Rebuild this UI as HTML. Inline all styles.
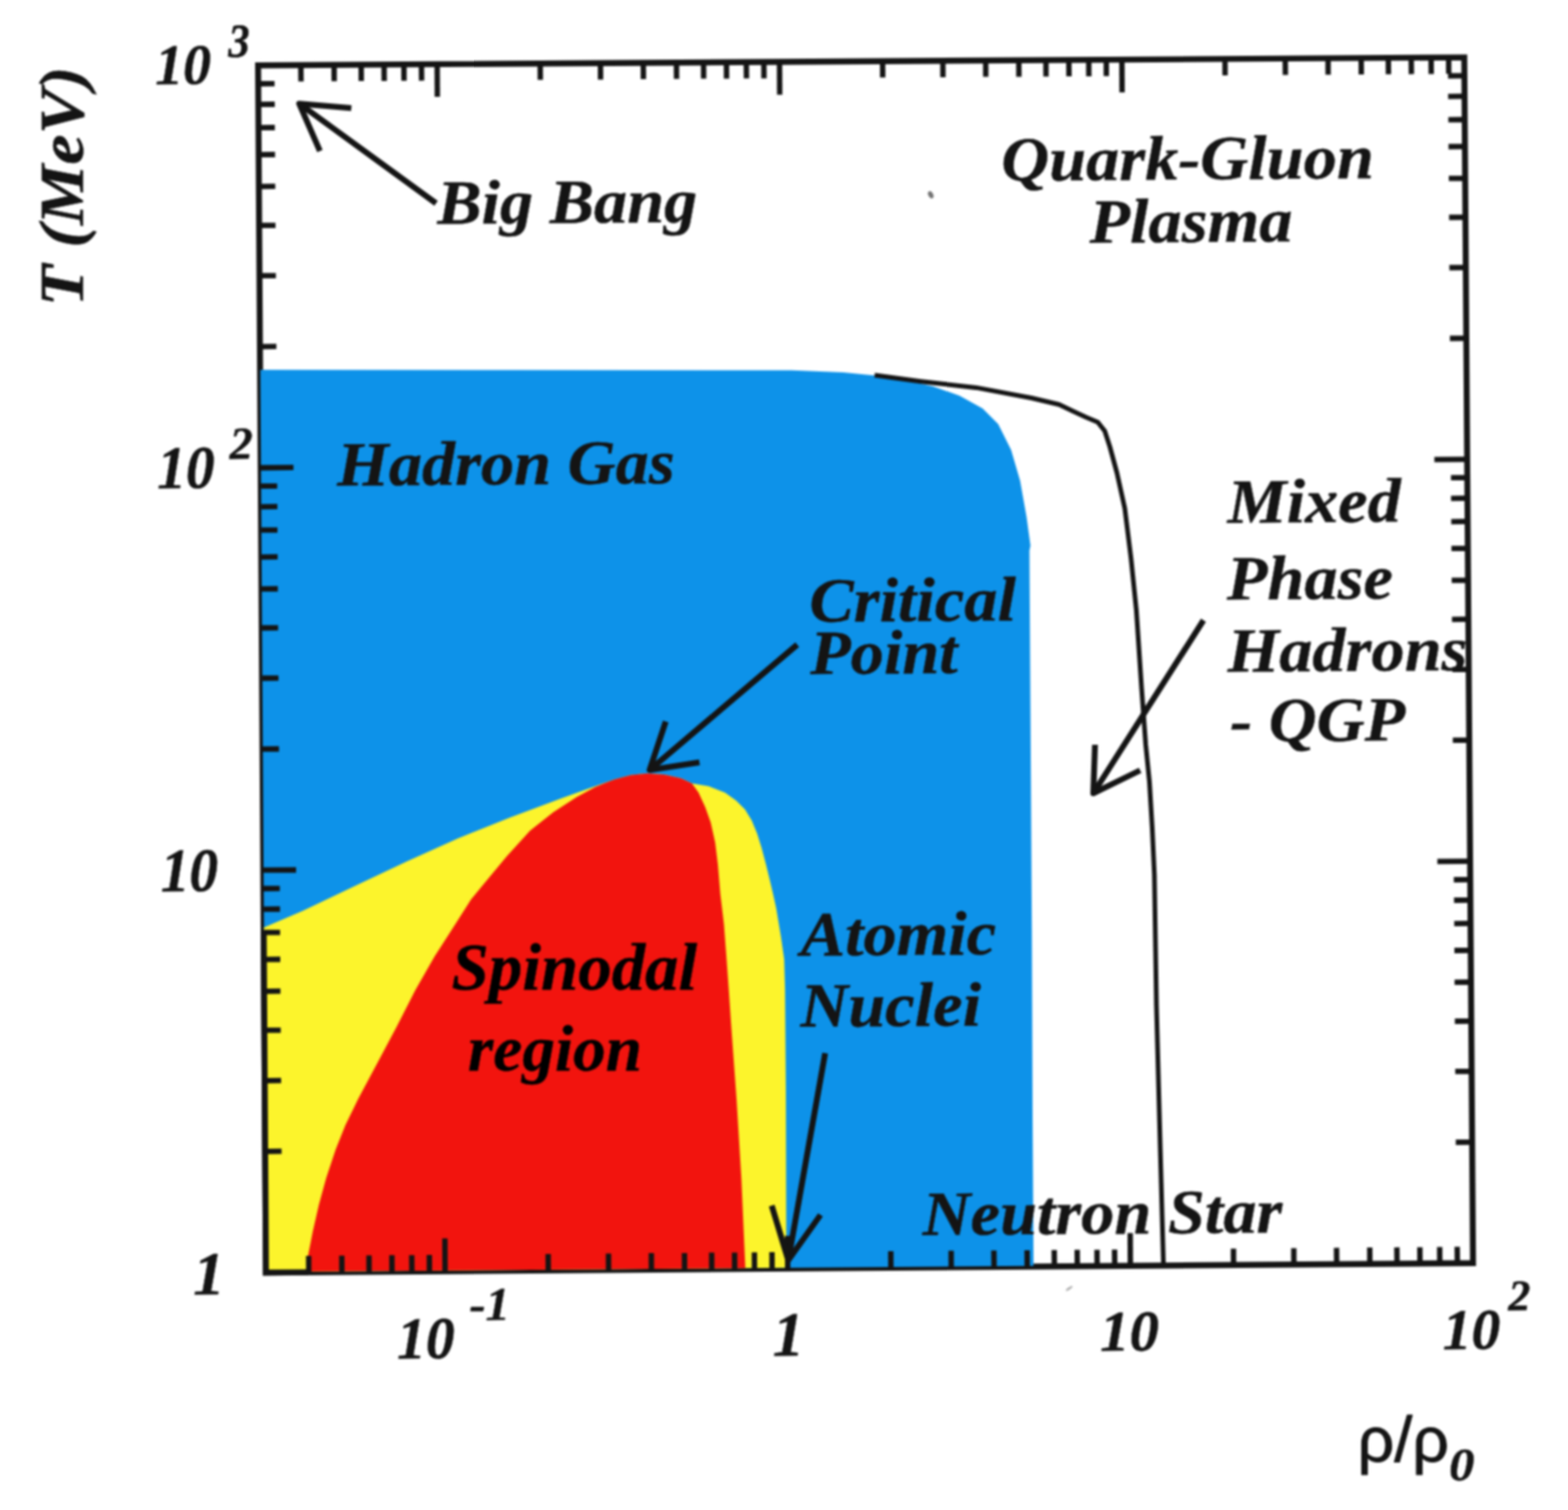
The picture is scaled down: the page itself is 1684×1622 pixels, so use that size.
<!DOCTYPE html>
<html lang="en"><head><meta charset="utf-8"><title>Nuclear matter phase diagram</title>
<style>
html,body{margin:0;padding:0;background:#fff;}
body{width:1684px;height:1622px;overflow:hidden;}
svg{display:block;}
.t{font-family:"Liberation Serif","DejaVu Serif",serif;font-weight:bold;font-style:italic;fill:#141414;}
.s{font-family:"Liberation Sans","DejaVu Sans",sans-serif;fill:#141414;}
.ln{stroke:#141414;fill:none;}
</style></head><body>
<svg width="1684" height="1622" viewBox="0 0 1684 1622" role="img" aria-label="Phase diagram of nuclear matter: temperature versus density">
<defs><filter id="soft" filterUnits="userSpaceOnUse" x="0" y="0" width="1684" height="1622" color-interpolation-filters="sRGB"><feGaussianBlur stdDeviation="0.9"/></filter></defs>
<rect x="0" y="0" width="1684" height="1622" fill="#ffffff"/>
<g filter="url(#soft)">
<rect x="0" y="0" width="1684" height="1622" fill="#ffffff"/>
<ellipse cx="999.6" cy="209.2" rx="2.6" ry="4.2" fill="#5a5a5a" opacity="0.85" transform="rotate(-25 999.6 209.2)"/>
<ellipse cx="1148.3" cy="1384" rx="4.2" ry="1.3" fill="#8a8a8a" opacity="0.7" transform="rotate(-35 1148.3 1384)"/>
<polygon class="ln" stroke-width="6.4" stroke-linejoin="miter" points="277.2,70.2 1572.6,61.6 1582.0,1356.8 285.6,1367.0"/>
<polygon fill="#0d92e9" points="279.6,397.2 560.0,397.6 850.0,397.7 905.5,400.0 961.0,405.5 1002.6,415.2 1030.4,425.0 1055.3,438.8 1072.0,455.4 1085.9,483.2 1095.6,516.5 1102.5,555.3 1106.7,585.9 1105.6,591.4 1108.2,1000.0 1109.0,1200.0 1110.0,1359.7 285.9,1366.2"/>
<polygon fill="#fcf42c" points="283.5,996.2 325.5,978.2 381.0,951.8 436.5,925.5 492.0,900.5 547.5,878.3 603.0,857.5 646.2,842.0 660.0,837.3 677.8,832.6 695.6,830.8 713.4,832.0 731.3,836.1 743.1,841.5 761.0,844.4 778.8,851.6 790.6,859.9 800.1,869.4 807.3,881.3 813.2,895.5 818.0,911.0 822.7,928.8 826.5,944.2 830.2,960.0 833.6,975.4 838.8,1006.4 842.2,1030.6 843.1,1061.7 844.0,1172.0 844.5,1361.8 285.9,1366.2"/>
<polygon fill="#f2140e" points="328.5,1365.8 330.9,1348.4 336.0,1322.5 342.5,1294.0 350.3,1265.5 360.6,1234.5 371.0,1208.6 384.9,1180.1 405.6,1141.3 426.2,1102.4 446.1,1063.6 466.8,1027.3 490.1,991.1 506.0,966.0 519.4,949.7 544.3,919.8 569.3,892.3 594.2,872.4 619.2,856.2 639.1,845.5 650.0,841.0 660.0,837.3 677.8,832.6 695.6,830.8 713.4,832.0 731.3,836.1 743.1,841.5 750.3,851.6 757.4,867.0 763.3,883.6 768.1,905.0 771.0,928.8 773.6,960.0 777.5,992.6 780.1,1027.1 782.6,1061.7 785.2,1100.0 791.0,1180.0 796.2,1265.0 800.5,1362.2"/>
<polyline class="ln" stroke-width="6.4" stroke-linejoin="miter" points="283.2,1000.0 285.6,1367.0 331.0,1366.6"/>
<g class="ln" stroke-width="5.8">
<line x1="323.1" y1="69.9" x2="323.3" y2="87.5"/>
<line x1="331.6" y1="1366.6" x2="331.5" y2="1349.0"/>
<line x1="358.8" y1="69.7" x2="358.9" y2="87.3"/>
<line x1="367.2" y1="1366.4" x2="367.1" y2="1348.7"/>
<line x1="387.9" y1="69.5" x2="388.0" y2="87.1"/>
<line x1="396.4" y1="1366.1" x2="396.3" y2="1348.5"/>
<line x1="412.5" y1="69.3" x2="412.6" y2="86.9"/>
<line x1="421.0" y1="1365.9" x2="420.9" y2="1348.3"/>
<line x1="433.8" y1="69.2" x2="433.9" y2="86.8"/>
<line x1="442.4" y1="1365.8" x2="442.2" y2="1348.2"/>
<line x1="452.6" y1="69.0" x2="452.8" y2="86.6"/>
<line x1="461.2" y1="1365.6" x2="461.1" y2="1348.0"/>
<line x1="469.5" y1="68.9" x2="469.7" y2="104.1"/>
<line x1="478.0" y1="1365.5" x2="477.8" y2="1330.3"/>
<line x1="580.2" y1="68.2" x2="580.3" y2="85.8"/>
<line x1="588.8" y1="1364.6" x2="588.7" y2="1347.0"/>
<line x1="644.9" y1="67.8" x2="645.0" y2="85.4"/>
<line x1="653.6" y1="1364.1" x2="653.5" y2="1346.5"/>
<line x1="690.9" y1="67.5" x2="691.0" y2="85.1"/>
<line x1="699.6" y1="1363.7" x2="699.5" y2="1346.1"/>
<line x1="726.5" y1="67.2" x2="726.6" y2="84.8"/>
<line x1="735.2" y1="1363.5" x2="735.1" y2="1345.9"/>
<line x1="755.6" y1="67.0" x2="755.7" y2="84.6"/>
<line x1="764.4" y1="1363.2" x2="764.3" y2="1345.6"/>
<line x1="780.2" y1="66.9" x2="780.3" y2="84.5"/>
<line x1="789.0" y1="1363.0" x2="788.9" y2="1345.4"/>
<line x1="801.5" y1="66.7" x2="801.7" y2="84.3"/>
<line x1="810.3" y1="1362.9" x2="810.2" y2="1345.3"/>
<line x1="820.4" y1="66.6" x2="820.5" y2="84.2"/>
<line x1="829.2" y1="1362.7" x2="829.1" y2="1345.1"/>
<line x1="837.2" y1="66.5" x2="837.4" y2="101.7"/>
<line x1="846.0" y1="1362.6" x2="845.8" y2="1327.4"/>
<line x1="947.9" y1="65.7" x2="948.0" y2="83.3"/>
<line x1="956.8" y1="1361.7" x2="956.7" y2="1344.1"/>
<line x1="1012.6" y1="65.3" x2="1012.7" y2="82.9"/>
<line x1="1021.6" y1="1361.2" x2="1021.5" y2="1343.6"/>
<line x1="1058.6" y1="65.0" x2="1058.7" y2="82.6"/>
<line x1="1067.6" y1="1360.8" x2="1067.4" y2="1343.2"/>
<line x1="1094.2" y1="64.8" x2="1094.3" y2="82.4"/>
<line x1="1103.2" y1="1360.6" x2="1103.1" y2="1343.0"/>
<line x1="1123.3" y1="64.6" x2="1123.4" y2="82.2"/>
<line x1="1132.4" y1="1360.3" x2="1132.2" y2="1342.7"/>
<line x1="1147.9" y1="64.4" x2="1148.1" y2="82.0"/>
<line x1="1157.0" y1="1360.1" x2="1156.9" y2="1342.5"/>
<line x1="1169.3" y1="64.3" x2="1169.4" y2="81.9"/>
<line x1="1178.3" y1="1360.0" x2="1178.2" y2="1342.4"/>
<line x1="1188.1" y1="64.2" x2="1188.2" y2="81.7"/>
<line x1="1197.2" y1="1359.8" x2="1197.0" y2="1342.2"/>
<line x1="1204.9" y1="64.0" x2="1205.1" y2="99.2"/>
<line x1="1214.0" y1="1359.7" x2="1213.8" y2="1324.5"/>
<line x1="1315.6" y1="63.3" x2="1315.7" y2="80.9"/>
<line x1="1324.8" y1="1358.8" x2="1324.7" y2="1341.2"/>
<line x1="1380.3" y1="62.9" x2="1380.5" y2="80.5"/>
<line x1="1389.6" y1="1358.3" x2="1389.5" y2="1340.7"/>
<line x1="1426.3" y1="62.6" x2="1426.4" y2="80.2"/>
<line x1="1435.6" y1="1358.0" x2="1435.4" y2="1340.4"/>
<line x1="1461.9" y1="62.3" x2="1462.0" y2="79.9"/>
<line x1="1471.2" y1="1357.7" x2="1471.1" y2="1340.1"/>
<line x1="1491.0" y1="62.1" x2="1491.2" y2="79.7"/>
<line x1="1500.4" y1="1357.4" x2="1500.2" y2="1339.9"/>
<line x1="1515.6" y1="62.0" x2="1515.8" y2="79.6"/>
<line x1="1525.0" y1="1357.2" x2="1524.9" y2="1339.7"/>
<line x1="1537.0" y1="61.8" x2="1537.1" y2="79.4"/>
<line x1="1546.3" y1="1357.1" x2="1546.2" y2="1339.5"/>
<line x1="1555.8" y1="61.7" x2="1555.9" y2="79.3"/>
<line x1="1565.2" y1="1356.9" x2="1565.0" y2="1339.3"/>
<line x1="284.8" y1="1236.9" x2="302.4" y2="1236.7"/>
<line x1="1581.1" y1="1226.8" x2="1563.5" y2="1227.0"/>
<line x1="284.3" y1="1160.8" x2="301.9" y2="1160.6"/>
<line x1="1580.5" y1="1150.8" x2="1562.9" y2="1150.9"/>
<line x1="283.9" y1="1106.7" x2="301.5" y2="1106.6"/>
<line x1="1580.1" y1="1096.9" x2="1562.5" y2="1097.0"/>
<line x1="283.6" y1="1064.9" x2="301.2" y2="1064.7"/>
<line x1="1579.8" y1="1055.0" x2="1562.2" y2="1055.2"/>
<line x1="283.4" y1="1030.6" x2="301.0" y2="1030.5"/>
<line x1="1579.6" y1="1020.8" x2="1562.0" y2="1021.0"/>
<line x1="283.2" y1="1001.7" x2="300.8" y2="1001.6"/>
<line x1="1579.4" y1="991.9" x2="1561.8" y2="992.1"/>
<line x1="283.1" y1="976.6" x2="300.7" y2="976.5"/>
<line x1="1579.2" y1="966.9" x2="1561.6" y2="967.0"/>
<line x1="282.9" y1="954.5" x2="300.5" y2="954.4"/>
<line x1="1579.0" y1="944.8" x2="1561.4" y2="945.0"/>
<line x1="282.8" y1="934.7" x2="318.0" y2="934.5"/>
<line x1="1578.9" y1="925.1" x2="1543.7" y2="925.3"/>
<line x1="282.0" y1="804.6" x2="299.6" y2="804.5"/>
<line x1="1577.9" y1="795.1" x2="1560.3" y2="795.2"/>
<line x1="281.5" y1="728.5" x2="299.1" y2="728.4"/>
<line x1="1577.4" y1="719.1" x2="1559.8" y2="719.2"/>
<line x1="281.1" y1="674.5" x2="298.7" y2="674.4"/>
<line x1="1577.0" y1="665.1" x2="1559.4" y2="665.3"/>
<line x1="280.8" y1="632.6" x2="298.4" y2="632.5"/>
<line x1="1576.7" y1="623.3" x2="1559.1" y2="623.4"/>
<line x1="280.6" y1="598.4" x2="298.2" y2="598.2"/>
<line x1="1576.4" y1="589.1" x2="1558.8" y2="589.2"/>
<line x1="280.4" y1="569.4" x2="298.0" y2="569.3"/>
<line x1="1576.2" y1="560.2" x2="1558.6" y2="560.3"/>
<line x1="280.3" y1="544.4" x2="297.9" y2="544.2"/>
<line x1="1576.0" y1="535.2" x2="1558.4" y2="535.3"/>
<line x1="280.1" y1="522.2" x2="297.7" y2="522.1"/>
<line x1="1575.9" y1="513.1" x2="1558.3" y2="513.2"/>
<line x1="280.0" y1="502.5" x2="315.2" y2="502.2"/>
<line x1="1575.7" y1="493.3" x2="1540.5" y2="493.6"/>
<line x1="279.2" y1="372.3" x2="296.8" y2="372.2"/>
<line x1="1574.8" y1="363.4" x2="1557.2" y2="363.5"/>
<line x1="278.7" y1="296.2" x2="296.3" y2="296.1"/>
<line x1="1574.2" y1="287.3" x2="1556.6" y2="287.5"/>
<line x1="278.3" y1="242.2" x2="295.9" y2="242.1"/>
<line x1="1573.8" y1="233.4" x2="1556.3" y2="233.5"/>
<line x1="278.0" y1="200.3" x2="295.6" y2="200.2"/>
<line x1="1573.5" y1="191.6" x2="1556.0" y2="191.7"/>
<line x1="277.8" y1="166.1" x2="295.4" y2="166.0"/>
<line x1="1573.3" y1="157.4" x2="1555.7" y2="157.5"/>
<line x1="277.6" y1="137.2" x2="295.2" y2="137.0"/>
<line x1="1573.1" y1="128.5" x2="1555.5" y2="128.6"/>
<line x1="277.5" y1="112.1" x2="295.1" y2="112.0"/>
<line x1="1572.9" y1="103.4" x2="1555.3" y2="103.6"/>
<line x1="277.3" y1="90.0" x2="294.9" y2="89.9"/>
<line x1="1572.7" y1="81.4" x2="1555.2" y2="81.5"/>
</g>
<polyline class="ln" stroke-width="5.0" stroke-linejoin="round" points="939.3,403.0 989.0,409.7 1048.4,416.4 1107.7,427.5 1137.4,434.5 1152.0,441.5 1166.0,448.0 1179.0,453.5 1186.5,463.0 1192.0,480.0 1199.6,508.0 1208.0,546.0 1214.7,599.7 1220.4,655.2 1226.0,738.5 1230.5,800.0 1234.5,840.0 1237.5,890.0 1239.8,940.0 1242.0,1080.0 1246.0,1230.0 1249.5,1357.0"/>
<g class="ln" stroke-width="6.3" stroke-linejoin="round">
<line x1="468.3" y1="218.4" x2="321.3" y2="111.3"/>
<polyline points="377.3,116.2 321.3,111.3 343.6,162.3"/>
</g>
<g class="ln" stroke-width="6.3" stroke-linejoin="round">
<line x1="856.2" y1="692.5" x2="697.7" y2="827.1"/>
<polyline points="715.0,775.0 697.7,827.1 751.2,818.8"/>
</g>
<g class="ln" stroke-width="6.3" stroke-linejoin="round">
<line x1="1292.5" y1="666.2" x2="1174.2" y2="852.1"/>
<polyline points="1176.0,800.0 1174.2,852.1 1224.5,827.5"/>
</g>
<g class="ln" stroke-width="6.3" stroke-linejoin="round">
<line x1="886.2" y1="1131.2" x2="846.6" y2="1353.8"/>
<polyline points="828.8,1295.0 846.6,1353.8 881.2,1305.0"/>
</g>
<text class="t" font-size="71.3" transform="translate(469.7 240.3) rotate(-0.38) scale(1.0000 0.9450)" stroke="#141414" stroke-width="0.50" stroke-linejoin="round">Big Bang</text>
<text class="t" font-size="71.3" transform="translate(1075.4 194.0) rotate(-0.38) scale(1.0000 0.9450)" stroke="#141414" stroke-width="0.50" stroke-linejoin="round">Quark-Gluon</text>
<text class="t" font-size="71.3" transform="translate(1170.2 260.7) rotate(-0.38) scale(1.0000 0.9450)" stroke="#141414" stroke-width="0.50" stroke-linejoin="round">Plasma</text>
<text class="t" font-size="71.3" transform="translate(362.2 521.5) rotate(-0.38) scale(1.0000 0.9450)" stroke="#141414" stroke-width="0.50" stroke-linejoin="round">Hadron Gas</text>
<text class="t" font-size="71.3" transform="translate(1318.5 561.5) rotate(-0.38) scale(1.0000 0.9450)" stroke="#141414" stroke-width="0.50" stroke-linejoin="round">Mixed</text>
<text class="t" font-size="71.3" transform="translate(1317.8 644.0) rotate(-0.38) scale(1.0000 0.9450)" stroke="#141414" stroke-width="0.50" stroke-linejoin="round">Phase</text>
<text class="t" font-size="71.3" transform="translate(1318.5 721.5) rotate(-0.38) scale(1.0000 0.9450)" stroke="#141414" stroke-width="0.50" stroke-linejoin="round">Hadrons</text>
<text class="t" font-size="71.3" transform="translate(1321.3 796.5) rotate(-0.38) scale(1.0000 0.9450)" stroke="#141414" stroke-width="0.50" stroke-linejoin="round">- QGP</text>
<text class="t" font-size="71.3" transform="translate(869.4 667.8) rotate(-0.38) scale(1.0000 0.9450)" stroke="#141414" stroke-width="0.50" stroke-linejoin="round">Critical</text>
<text class="t" font-size="71.3" transform="translate(870.2 724.0) rotate(-0.38) scale(1.0000 0.9450)" stroke="#141414" stroke-width="0.50" stroke-linejoin="round">Point</text>
<text class="t" font-size="71.3" transform="translate(860.1 1026.5) rotate(-0.38) scale(1.0000 0.9450)" stroke="#141414" stroke-width="0.50" stroke-linejoin="round">Atomic</text>
<text class="t" font-size="71.3" transform="translate(859.7 1102.8) rotate(-0.38) scale(1.0000 0.9450)" stroke="#141414" stroke-width="0.50" stroke-linejoin="round">Nuclei</text>
<text class="t" font-size="71.3" transform="translate(991.0 1326.5) rotate(-0.38) scale(1.0000 0.9450)" stroke="#141414" stroke-width="0.50" stroke-linejoin="round">Neutron Star</text>
<text class="t" font-size="71.0" transform="translate(485.0 1062.8) rotate(0.00) scale(1.0130 1.0000)" style="fill:#000" stroke="#000" stroke-width="0.40" stroke-linejoin="round">Spinodal</text>
<text class="t" font-size="69.0" transform="translate(502.5 1150.0) rotate(0.00) scale(1.0170 1.0000)" style="fill:#000" stroke="#000" stroke-width="0.40" stroke-linejoin="round">region</text>
<text class="t" font-size="61.6" transform="translate(166.7 90.5) rotate(-0.38) scale(0.9754 1)" stroke="#141414" stroke-width="0.50" stroke-linejoin="round">10</text>
<text class="t" font-size="50.7" transform="translate(245.3 61.1) rotate(-0.38) scale(0.9114 1)" stroke="#141414" stroke-width="0.50" stroke-linejoin="round">3</text>
<text class="t" font-size="65.3" transform="translate(168.9 524.4) rotate(-0.38) scale(0.9476 1)" stroke="#141414" stroke-width="0.50" stroke-linejoin="round">10</text>
<text class="t" font-size="49.2" transform="translate(246.7 492.9) rotate(-0.38) scale(1.0112 1)" stroke="#141414" stroke-width="0.50" stroke-linejoin="round">2</text>
<text class="t" font-size="66.2" transform="translate(172.7 957.5) rotate(-0.38) scale(0.9334 1)" stroke="#141414" stroke-width="0.50" stroke-linejoin="round">10</text>
<text class="t" font-size="65.5" transform="translate(207.6 1390.5) rotate(-0.38) scale(1.0341 1)" stroke="#141414" stroke-width="0.50" stroke-linejoin="round">1</text>
<text class="t" font-size="63.6" transform="translate(426.5 1459.2) rotate(-0.38) scale(0.9745 1)" stroke="#141414" stroke-width="0.50" stroke-linejoin="round">10</text>
<text class="t" font-size="50.4" transform="translate(504.2 1418.0) rotate(-0.38) scale(1.0344 1)" stroke="#141414" stroke-width="0.50" stroke-linejoin="round">-1</text>
<text class="t" font-size="67.3" transform="translate(829.9 1456.3) rotate(-0.38) scale(1.0053 1)" stroke="#141414" stroke-width="0.50" stroke-linejoin="round">1</text>
<text class="t" font-size="61.8" transform="translate(1181.5 1451.0) rotate(-0.38) scale(1.0246 1)" stroke="#141414" stroke-width="0.50" stroke-linejoin="round">10</text>
<text class="t" font-size="61.8" transform="translate(1549.5 1449.3) rotate(-0.38) scale(1.0035 1)" stroke="#141414" stroke-width="0.50" stroke-linejoin="round">10</text>
<text class="t" font-size="46.6" transform="translate(1620.0 1407.5) rotate(-0.38) scale(1.0184 1)" stroke="#141414" stroke-width="0.50" stroke-linejoin="round">2</text>
<text class="t" font-size="66.9" transform="translate(88.6 328.9) rotate(-90) scale(1.0919 1)" stroke="#141414" stroke-width="0.50">T (MeV)</text>
<text class="s" font-size="68.1" transform="translate(1458.1 1569.7) rotate(0.00) scale(1.0181 1)" stroke="#141414" stroke-width="1.00" stroke-linejoin="round">ρ/ρ</text>
<text class="t" font-size="50.6" transform="translate(1556.2 1589.6) rotate(0.00) scale(1.0760 1)" stroke="#141414" stroke-width="0.50" stroke-linejoin="round">0</text>
</g>
</svg>
</body></html>
